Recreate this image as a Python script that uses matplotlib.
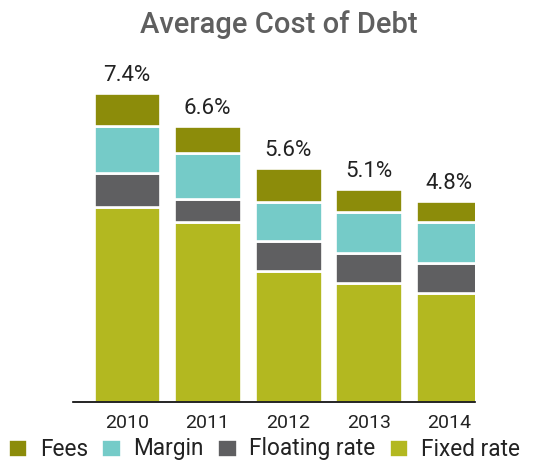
import numpy as np
import matplotlib.pyplot as plt

plt.rcParams['font.family'] = ['Roboto', 'DejaVu Sans']

years = ["2010", "2011", "2012", "2013", "2014"]
fixed_rate = [4.67, 4.29, 3.14, 2.84, 2.60]
floating_rate = [0.80, 0.56, 0.71, 0.71, 0.72]
margin = [1.12, 1.10, 0.92, 0.99, 0.99]
fees = [0.81, 0.65, 0.83, 0.56, 0.49]
totals = ["7.4%", "6.6%", "5.6%", "5.1%", "4.8%"]

colors = {
    "Fees": "#8c8c0a",
    "Margin": "#75cbc8",
    "Floating rate": "#5f5f61",
    "Fixed rate": "#b3b820",
}

fig = plt.figure(figsize=(5.52, 4.66), dpi=100)
ax = fig.add_axes([72.7 / 552, (466 - 401.7) / 466, (475 - 72.7) / 552, 341.7 / 466])

x = np.arange(len(years))
w = 0.83
bottom = np.zeros(len(years))
conts = {}
for name, vals in [("Fixed rate", fixed_rate), ("Floating rate", floating_rate),
                   ("Margin", margin), ("Fees", fees)]:
    conts[name] = ax.bar(x, vals, w, bottom=bottom, color=colors[name],
                         edgecolor="white", linewidth=1.9, label=name)
    bottom += np.array(vals)

ax.bar_label(conts["Fees"], labels=totals, padding=5, fontsize=16, color="#222222")

ax.set_xlim(-0.675, 4.32)
ax.set_ylim(0, 8.18)
ax.set_xticks(x, years, fontsize=14, color="#222222")
ax.tick_params(axis="x", length=0, pad=9)
ax.set_yticks([])
for s in ["top", "right", "left"]:
    ax.spines[s].set_visible(False)
ax.spines["bottom"].set_zorder(5)
ax.spines["bottom"].set_linewidth(1.2)

fig.text(0.506, 1 - 33 / 466, "Average Cost of Debt", ha="center", va="baseline",
         fontsize=21, fontweight="medium", color="#5f5f5f")

order = ["Fees", "Margin", "Floating rate", "Fixed rate"]
fig.legend([conts[n] for n in order], order, loc="center", ncol=4,
           bbox_to_anchor=(0.478, 1 - 449 / 466), frameon=False, fontsize=16.3,
           handlelength=0.86, handleheight=0.86, handletextpad=0.55,
           columnspacing=0.6, borderaxespad=0, borderpad=0, labelcolor="#222222")

fig.savefig("out.png", dpi=100)
